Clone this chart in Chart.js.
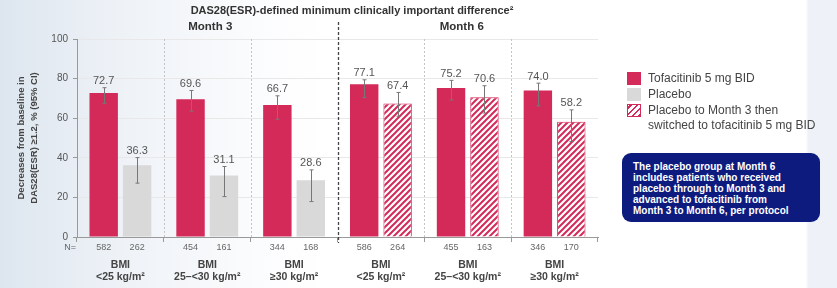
<!DOCTYPE html>
<html><head><meta charset="utf-8">
<script src="https://cdn.jsdelivr.net/npm/chart.js@4.4.1/dist/chart.umd.min.js"></script>
<style>
html,body{margin:0;padding:0;}
body{width:837px;height:288px;overflow:hidden;position:relative;font-family:"Liberation Sans",Arial,sans-serif;
background:linear-gradient(to right,#dde6ef 0px,#eef2f7 120px,#fbfcfd 260px,#ffffff 330px,#ffffff 806px,#eef2f8 808px,#eef2f8 837px);}
#c{position:absolute;left:0;top:0;}
#legend{position:absolute;left:627px;top:71px;font-size:12px;color:#444;}
.item{display:flex;align-items:flex-start;line-height:15px;margin-bottom:1px;}
.sw{width:14px;height:13px;margin-right:7px;margin-top:1px;flex:none;box-sizing:border-box;}
#note{position:absolute;left:622px;top:153px;width:198px;height:69px;box-sizing:border-box;border-radius:9px;background:#0d1b7e;color:#fff;font-weight:bold;font-size:10px;line-height:11px;padding:8px 0 0 11px;}
</style></head>
<body>
<canvas id="c" width="837" height="288"></canvas>
<div id="legend"></div>
<div id="note">The placebo group at Month 6<br>includes patients who received<br>placebo through to Month 3 and<br>advanced to tofacitinib from<br>Month 3 to Month 6, per protocol</div>
<script>
// ---- data ----
const categories = ['<25 kg/m²', '25–<30 kg/m²', '≥30 kg/m²', '<25 kg/m²', '25–<30 kg/m²', '≥30 kg/m²'];
const periods = ['Month 3', 'Month 3', 'Month 3', 'Month 6', 'Month 6', 'Month 6'];
const tofaValues = [72.7, 69.6, 66.7, 77.1, 75.2, 74.0];
const tofaLow = [67.5, 63.6, 59.5, 70.4, 69.2, 66.2];
const tofaHigh = [75.4, 74.0, 71.3, 79.4, 79.1, 77.7];
const placeboValues = [36.3, 31.1, 28.6, 67.4, 70.6, 58.2];
const placeboLow = [27.2, 20.4, 17.9, 61.0, 62.6, 48.2];
const placeboHigh = [40.1, 35.6, 33.9, 73.0, 76.4, 64.2];
const tofaN = [582, 454, 344, 586, 455, 346];
const placeboN = [262, 161, 168, 264, 163, 170];
const legendLabels = ['Tofacitinib 5 mg BID', 'Placebo', 'Placebo to Month 3 then switched to tofacitinib 5 mg BID'];
const yTicks = [0, 20, 40, 60, 80, 100];
const titleText = 'DAS28(ESR)-defined minimum clinically important difference²';
const yTitle = ['Decreases from baseline in', 'DAS28(ESR) ≥1.2, % (95% CI)'];

// ---- styles ----
const F = '"Liberation Sans", Arial, sans-serif';
const RED = '#d42a5a';
const GRAY = '#d9d9d9';

function makeHatch() {
  const p = document.createElement('canvas'); p.width = 6; p.height = 6;
  const g = p.getContext('2d');
  g.fillStyle = '#fff'; g.fillRect(0, 0, 6, 6);
  g.strokeStyle = RED; g.lineWidth = 2;
  g.beginPath();
  g.moveTo(-1, 7); g.lineTo(7, -1);
  g.moveTo(-1, 1); g.lineTo(1, -1);
  g.moveTo(5, 7); g.lineTo(7, 5);
  g.stroke();
  return g.createPattern(p, 'repeat');
}
const hatch = makeHatch();

// legend (HTML)
const leg = document.getElementById('legend');
const swatchCss = [
  'background:' + RED,
  'background:' + GRAY,
  'background:repeating-linear-gradient(-45deg,' + RED + ' 0 2px,#fff 2px 4.3px);border:1px solid ' + RED
];
legendLabels.forEach((t, i) => {
  const d = document.createElement('div'); d.className = 'item';
  const s = document.createElement('div'); s.className = 'sw'; s.style.cssText = swatchCss[i];
  const tx = document.createElement('div');
  tx.innerHTML = i === 2 ? 'Placebo to Month 3 then<br>switched to tofacitinib 5 mg BID' : t;
  d.appendChild(s); d.appendChild(tx); leg.appendChild(d);
});

const annot = {
  id: 'annot',
  afterDraw(chart) {
    const { ctx, chartArea: a, scales: { x, y } } = chart;
    ctx.save();
    // separators
    for (let i = 0; i < categories.length - 1; i++) {
      const sx = Math.round((x.getPixelForValue(i) + x.getPixelForValue(i + 1)) / 2) + 0.5;
      const major = periods[i] !== periods[i + 1];
      ctx.beginPath();
      ctx.setLineDash(major ? [3, 2] : [2, 2]);
      ctx.strokeStyle = major ? '#444' : '#c4c4c4';
      ctx.lineWidth = major ? 1.3 : 1;
      ctx.moveTo(sx, major ? 22 : a.top);
      ctx.lineTo(sx, major ? a.bottom + 6 : a.bottom);
      ctx.stroke();
    }
    ctx.setLineDash([]);
    // error bars and labels
    const sets = [[0, tofaLow, tofaHigh, tofaValues, tofaN], [1, placeboLow, placeboHigh, placeboValues, placeboN]];
    sets.forEach(([di, lo, hi, vals, ns]) => {
      const meta = chart.getDatasetMeta(di);
      meta.data.forEach((bar, i) => {
        const bx = Math.round(bar.x) + 0.5;
        const yl = y.getPixelForValue(lo[i]), yh = y.getPixelForValue(hi[i]);
        ctx.strokeStyle = '#777'; ctx.lineWidth = 1;
        ctx.beginPath();
        ctx.moveTo(bx, yl); ctx.lineTo(bx, yh);
        ctx.moveTo(bx - 2, yl); ctx.lineTo(bx + 2, yl);
        ctx.moveTo(bx - 2, yh); ctx.lineTo(bx + 2, yh);
        ctx.stroke();
        ctx.fillStyle = '#555';
        ctx.font = '11px ' + F;
        ctx.textAlign = 'center'; ctx.textBaseline = 'bottom';
        ctx.fillText(vals[i].toFixed(1), bar.x, yh - 1);
        ctx.fillStyle = '#666';
        ctx.font = '9px ' + F;
        ctx.textBaseline = 'middle';
        ctx.fillText(String(ns[i]), bar.x, 248);
      });
    });
    ctx.textAlign = 'right'; ctx.fillStyle = '#666'; ctx.font = '9px ' + F; ctx.textBaseline = 'middle';
    ctx.fillText('N=', a.left - 1, 248);
    // titles
    ctx.textAlign = 'center'; ctx.fillStyle = '#333';
    ctx.font = 'bold 11px ' + F;
    ctx.fillText(titleText, 352, 11);
    ctx.font = 'bold 11.5px ' + F;
    const m3 = x.getPixelForValue(1), m6 = x.getPixelForValue(4);
    ctx.fillText('Month 3', m3 + 3, 27);
    ctx.fillText('Month 6', m6 - 6, 27);
    ctx.restore();
  }
};

new Chart(document.getElementById('c'), {
  type: 'bar',
  data: {
    labels: categories.map(c => ['BMI', c]),
    datasets: [
      { label: legendLabels[0], data: tofaValues, backgroundColor: RED, borderWidth: 0,
        categoryPercentage: 0.77, barPercentage: 0.85 },
      { label: legendLabels[1], data: placeboValues,
        backgroundColor: periods.map(p => p === 'Month 6' ? hatch : GRAY),
        borderColor: periods.map(p => p === 'Month 6' ? RED : 'rgba(0,0,0,0)'),
        borderWidth: periods.map(p => p === 'Month 6' ? 1 : 0),
        categoryPercentage: 0.77, barPercentage: 0.85 }
    ]
  },
  options: {
    responsive: false, animation: false, devicePixelRatio: 1,
    layout: { padding: { top: 39, right: 239, bottom: 0, left: 0 } },
    plugins: { legend: { display: false }, tooltip: { enabled: false } },
    scales: {
      x: {
        grid: { display: true, drawOnChartArea: false, tickLength: 5, tickColor: '#999', offset: true },
        border: { color: '#999' },
        ticks: { font: { family: F, size: 10.5, weight: 'bold', lineHeight: 1.15 }, color: '#444', padding: 17, maxRotation: 0, autoSkip: false },
        afterFit(s) { s.height = 51; }
      },
      y: {
        min: 0, max: 100,
        afterBuildTicks(s) { s.ticks = yTicks.map(v => ({ value: v })); },
        ticks: { color: '#555', font: { family: F, size: 10 }, padding: 5 },
        grid: { color: '#e8e8e8', tickLength: 4, tickColor: '#999' },
        border: { color: '#999' },
        title: { display: true, text: yTitle, color: '#444', font: { family: F, size: 9.5, weight: 'bold', lineHeight: 1.35 }, padding: { top: 15, bottom: 0 } },
        afterFit(s) { s.width = 77; }
      }
    }
  },
  plugins: [annot]
});
</script>
</body></html>
